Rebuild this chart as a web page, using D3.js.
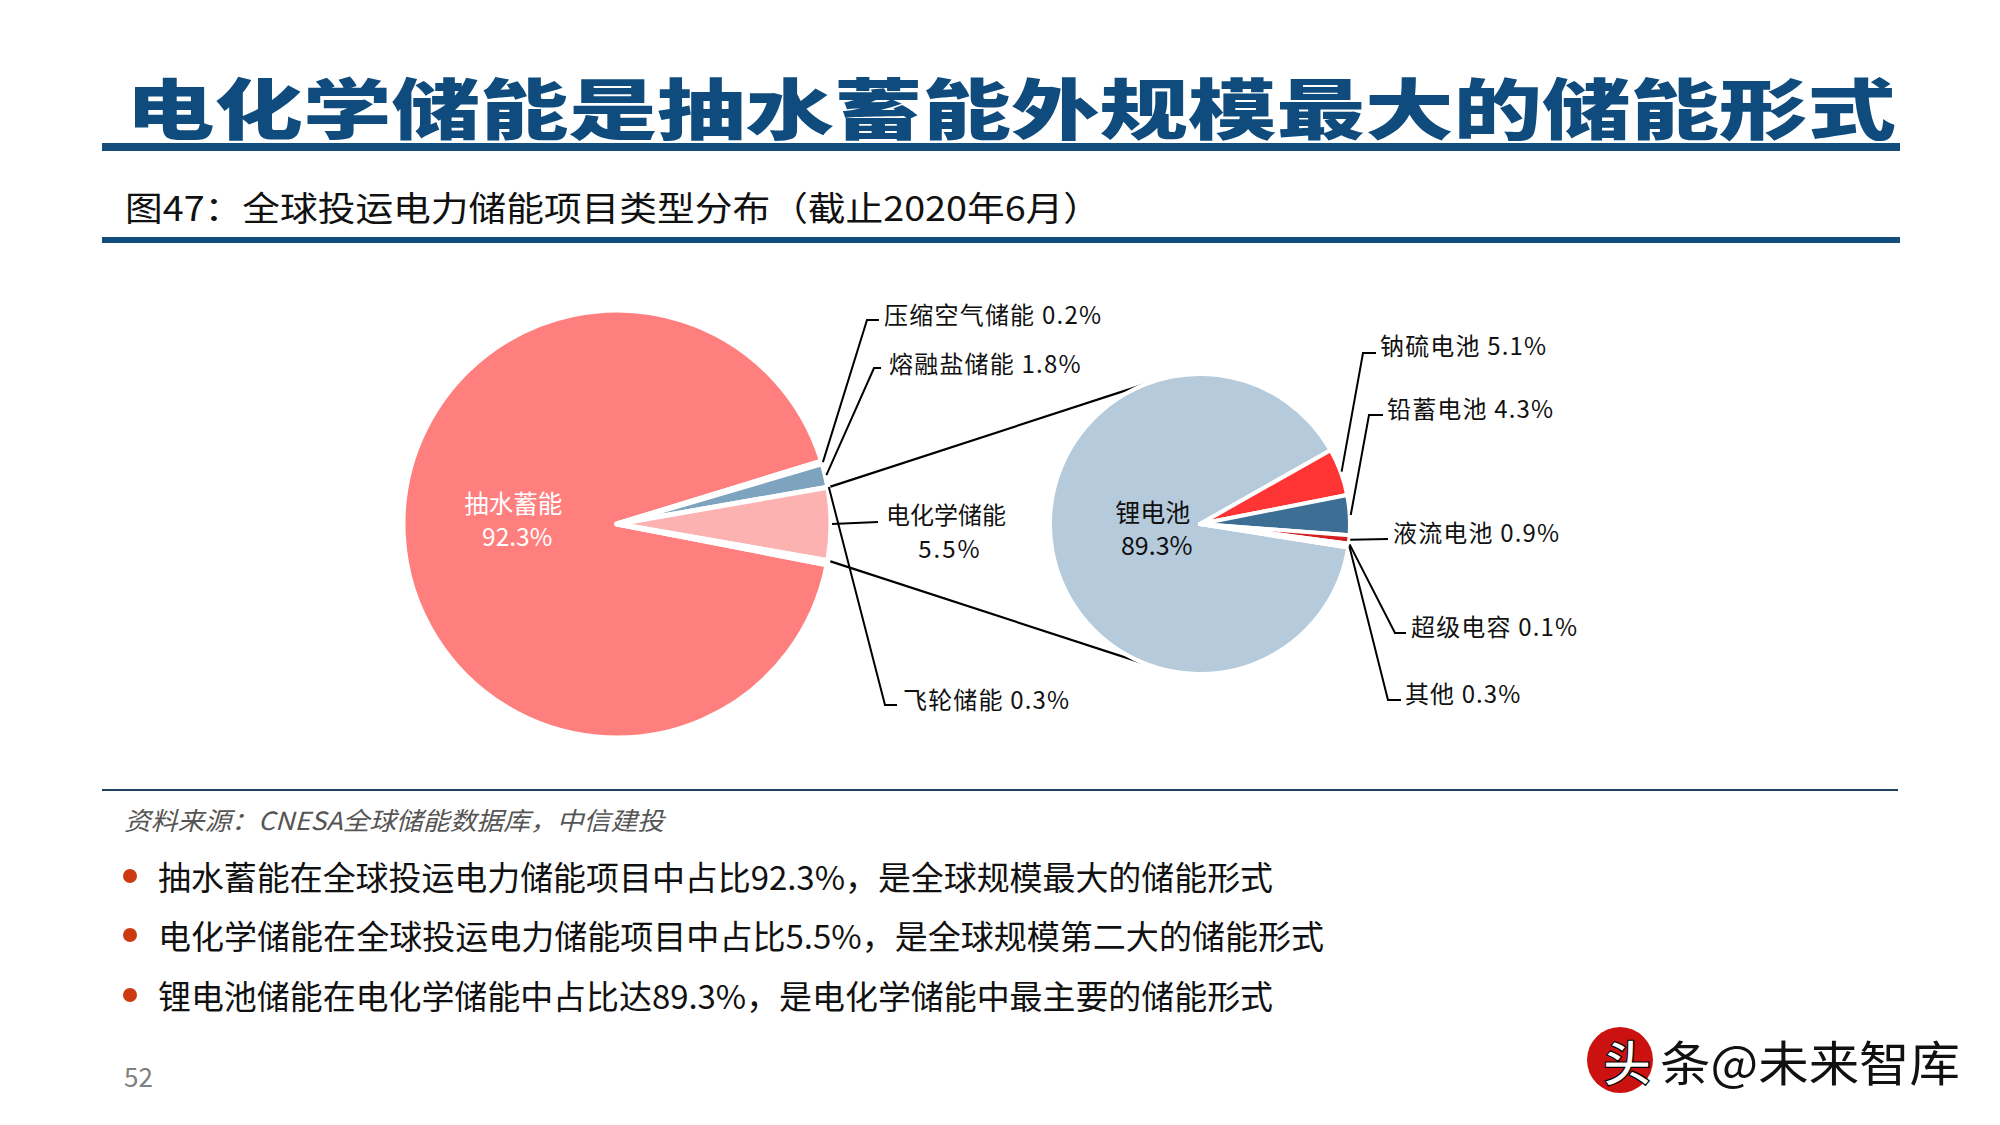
<!DOCTYPE html>
<html><head><meta charset="utf-8">
<script src="https://cdn.jsdelivr.net/npm/d3@7"></script>
<style>
body{margin:0;background:#fff}
svg{display:block}
text{font-family:"Noto Sans CJK SC","Noto Sans",sans-serif}
</style>
</head><body>
<svg id="c" width="2000" height="1125"></svg>
<script>
// ---------- DATA ----------
const mainCategories = ["抽水蓄能","压缩空气储能","熔融盐储能","电化学储能","飞轮储能"];
const mainValues     = [92.3, 0.2, 1.8, 5.5, 0.3];
const subCategories  = ["锂电池","钠硫电池","铅蓄电池","液流电池","超级电容","其他"];
const subValues      = [89.3, 5.1, 4.3, 0.9, 0.1, 0.3];
const titleText    = "电化学储能是抽水蓄能外规模最大的储能形式";
const subtitleText = "图47：全球投运电力储能项目类型分布（截止2020年6月）";
const sourceText   = "资料来源：CNESA全球储能数据库，中信建投";
const bulletTexts  = [
  "抽水蓄能在全球投运电力储能项目中占比92.3%，是全球规模最大的储能形式",
  "电化学储能在全球投运电力储能项目中占比5.5%，是全球规模第二大的储能形式",
  "锂电池储能在电化学储能中占比达89.3%，是电化学储能中最主要的储能形式"
];
const pageNumber = "52";

// ---------- STYLE / LAYOUT ----------
const mainColors = ["#ff7f7f","#c9d7e3","#7ea3bf","#fdb2b2","#fbd0d0"];
const subColors  = ["#b5cadb","#ff3434","#3d6e94","#d42020","#8fb0c8","#c5d5e2"];
const fmt = v => d3.format(".1f")(v) + "%";
const deg = Math.PI/180;

const svg = d3.select("#c");

// Title block
svg.append("text").attr("x",126).attr("y",105).attr("dominant-baseline","central")
  .attr("font-size",66).attr("font-weight",900).attr("fill","#0f4c7d")
  .attr("textLength",1770).attr("lengthAdjust","spacingAndGlyphs").text(titleText);
svg.append("rect").attr("x",102).attr("y",143).attr("width",1798).attr("height",8).attr("fill","#134d7c");
svg.append("text").attr("x",125).attr("y",206).attr("dominant-baseline","central")
  .attr("font-size",34).attr("fill","#111")
  .attr("textLength",976).attr("lengthAdjust","spacingAndGlyphs").text(subtitleText);
svg.append("rect").attr("x",102).attr("y",237).attr("width",1798).attr("height",6).attr("fill","#134d7c");

// ---------- PIES ----------
const mainC = {x:617, y:524, r:214};
const subC  = {x:1200, y:524, r:150};

const mainTotal = d3.sum(mainValues);
const before = d3.sum(mainValues.slice(0,3)) + mainValues[3]/2;
const mainStart = Math.PI/2 - 2*Math.PI*before/mainTotal;
const mainPie = d3.pie().sort(null).startAngle(mainStart).endAngle(mainStart+2*Math.PI);
const mainArcs = mainPie(mainValues).map((d,i)=>Object.assign(d,{name:mainCategories[i]}));

const subTotal = d3.sum(subValues);
const subStart = 60.5*deg - 2*Math.PI*subValues[0]/subTotal;
const subPie = d3.pie().sort(null).startAngle(subStart).endAngle(subStart+2*Math.PI);
const subArcs = subPie(subValues).map((d,i)=>Object.assign(d,{name:subCategories[i]}));

const pt = (c, a, r) => [c.x + r*Math.sin(a), c.y - r*Math.cos(a)];

// connector lines: tangents from electrochemical slice corners to second pie
const ec = mainArcs[3];
function tangent(P, C, R, upper){
  const dx=P[0]-C.x, dy=P[1]-C.y, d=Math.hypot(dx,dy);
  const base=Math.atan2(dy,dx), off=Math.acos(R/d);
  const cands=[base+off, base-off].map(t=>[C.x+R*Math.cos(t), C.y+R*Math.sin(t)]);
  cands.sort((a,b)=>a[1]-b[1]);
  return upper?cands[0]:cands[1];
}
const cTop = pt(mainC, ec.startAngle, mainC.r+2);
const cBot = pt(mainC, ec.endAngle, mainC.r+2);
const conn = svg.append("g").attr("stroke","#000").attr("stroke-width",2.2).attr("fill","none");
[[cTop,true],[cBot,false]].forEach(([P,up])=>{
  const T=tangent(P,subC,subC.r,up);
  conn.append("line").attr("x1",P[0]).attr("y1",P[1]).attr("x2",T[0]).attr("y2",T[1]);
});

const mainArcGen = d3.arc().innerRadius(0).outerRadius(mainC.r);
svg.append("g").attr("transform",`translate(${mainC.x},${mainC.y})`)
  .selectAll("path").data(mainArcs).join("path")
  .attr("d",mainArcGen).attr("fill",(d,i)=>mainColors[i])
  .attr("stroke","#fff").attr("stroke-width",5).attr("stroke-linejoin","round");

const subArcGen = d3.arc().innerRadius(0).outerRadius(subC.r);
svg.append("g").attr("transform",`translate(${subC.x},${subC.y})`)
  .selectAll("path").data(subArcs).join("path")
  .attr("d",subArcGen).attr("fill",(d,i)=>subColors[i])
  .attr("stroke","#fff").attr("stroke-width",4).attr("stroke-linejoin","round");

// inside labels
function insideLabel(c, arc, rr, dy, color, fs){
  const a=(arc.startAngle+arc.endAngle)/2;
  const p=pt(c,a,rr);
  const g=svg.append("g").attr("fill",color).attr("font-size",fs).attr("text-anchor","middle");
  g.append("text").attr("x",p[0]).attr("y",p[1]+dy-16).attr("dominant-baseline","central").text(arc.name);
  g.append("text").attr("x",p[0]+4).attr("y",p[1]+dy+17).attr("dominant-baseline","central").text(fmt(arc.value));
}
insideLabel(mainC, mainArcs[0], 104, -11, "#fff", 24.5);
insideLabel(subC, subArcs[0], 48, -6, "#111", 25);

// outside labels with leader lines (layout only)
const mainLabelLayout = [
  {i:1, elbow:[867,320], end:[879,320], tx:884, ty:313},
  {i:2, elbow:[874,368], end:[881,368], tx:889, ty:362},
  {i:3, elbow:null, end:[878,522], tx:946, ty:513, twoLine:true},
  {i:4, anchor:"ecStart", elbow:[885,705], end:[897,705], tx:903, ty:698}
];
const subLabelLayout = [
  {i:1, elbow:[1363,353], end:[1376,353], tx:1380, ty:344},
  {i:2, elbow:[1369,415], end:[1383,415], tx:1387, ty:407},
  {i:3, elbow:null, end:[1388,539], tx:1393, ty:531},
  {i:4, elbow:[1395,633], end:[1406,633], tx:1411, ty:625},
  {i:5, elbow:[1388,700], end:[1401,700], tx:1405, ty:692}
];
function outside(c, arcs, layout){
  const lg=svg.append("g");
  layout.forEach(L=>{
    const d=arcs[L.i];
    const a = L.anchor==="ecStart" ? ec.startAngle : (d.startAngle+d.endAngle)/2;
    const s=pt(c,a,c.r+1);
    const pts=[s]; if(L.elbow) pts.push(L.elbow); pts.push(L.end);
    lg.append("path").attr("d",d3.line()(pts)).attr("fill","none").attr("stroke","#000").attr("stroke-width",2);
    if(L.twoLine){
      lg.append("text").attr("x",L.tx).attr("y",L.ty).attr("text-anchor","middle").attr("dominant-baseline","central")
        .attr("font-size",24).attr("fill","#111").text(d.name);
      lg.append("text").attr("x",L.tx+4).attr("y",L.ty+34).attr("text-anchor","middle").attr("dominant-baseline","central")
        .attr("font-size",24).attr("fill","#111").attr("letter-spacing",2).text(fmt(d.value));
    } else {
      const t=lg.append("text").attr("x",L.tx).attr("y",L.ty).attr("dominant-baseline","central")
        .attr("font-size",24).attr("fill","#111").text(d.name+" "+fmt(d.value));
      const w=t.node().getComputedTextLength();
      t.attr("textLength",w*1.06).attr("lengthAdjust","spacing");
    }
  });
}
outside(mainC, mainArcs, mainLabelLayout);
outside(subC, subArcs, subLabelLayout);

// ---------- FOOTER ----------
svg.append("rect").attr("x",102).attr("y",789).attr("width",1796).attr("height",2).attr("fill","#24425f");
svg.append("text").attr("x",124).attr("y",819).attr("dominant-baseline","central")
  .attr("font-size",25).attr("font-style","italic").attr("fill","#555")
  .attr("textLength",540).attr("lengthAdjust","spacingAndGlyphs").text(sourceText);

const bulletY=[876,935,995], bulletLen=[1115,1166,1115];
bulletTexts.forEach((t,i)=>{
  svg.append("circle").attr("cx",130).attr("cy",bulletY[i]).attr("r",7).attr("fill","#cc3a12");
  svg.append("text").attr("x",158).attr("y",bulletY[i]).attr("dominant-baseline","central")
    .attr("font-size",33).attr("fill","#111")
    .attr("textLength",bulletLen[i]).attr("lengthAdjust","spacingAndGlyphs").text(t);
});
svg.append("text").attr("x",124).attr("y",1075).attr("dominant-baseline","central")
  .attr("font-size",26).attr("fill","#808080").text(pageNumber);

// watermark
svg.append("circle").attr("cx",1620).attr("cy",1060).attr("r",33).attr("fill","#cc1111");
svg.append("text").attr("x",1603).attr("y",1060).attr("dominant-baseline","central")
  .attr("font-size",48).attr("font-weight",700).attr("fill","#fff").attr("stroke","#000").attr("stroke-width",1.2).text("头");
svg.append("text").attr("x",1660).attr("y",1060).attr("dominant-baseline","central")
  .attr("font-size",48).attr("fill","#111")
  .attr("textLength",300).attr("lengthAdjust","spacingAndGlyphs").text("条@未来智库");
</script>
</body></html>
